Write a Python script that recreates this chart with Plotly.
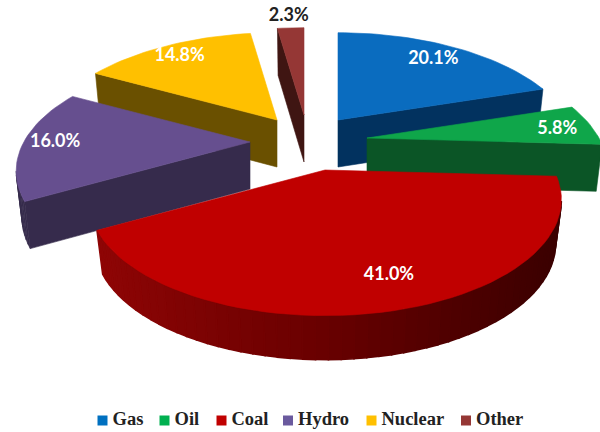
import math
import plotly.graph_objects as go

categories = ["Gas", "Oil", "Coal", "Hydro", "Nuclear", "Other"]
shares = [20.1, 5.8, 41.0, 16.0, 14.8, 2.3]

# styling
top_colors = ["#0A6CBF", "#0FA64A", "#C00000", "#664F8F", "#FFC000", "#953735"]
wall_colors = ["#02325F", "#0B5526", "#6A0000", "#362B4C", "#6A5000", "#3F1512"]
legend_colors = ["#0070C0", "#00B050", "#C00000", "#6A5A9E", "#FFC000", "#953735"]
label_colors = ["white", "white", "white", "white", "white", "#222222"]

# explode offsets (screen position of each slice's tip) and projection
tips = [(338, 120), (367, 138), (325, 170), (250, 142), (277, 120), (304, 115)]
radius_scale = [1, 1, .985, .975, 1, 1]
depths = [47, 47, 44, 47, 47, 47]
label_polar = [(36.8, .80), (84.8, .84), (164, .80), (270, .84), (324, .84), (355.8, 1.17)]
legend_left = [102.5, 164.5, 221.5, 288, 371.5, 466]
LEGEND_Y = 420.5
R, K, P, SHRINK = 232, 110, 0.26, 0.975
draw_order = [5, 4, 0, 3, 1, 2]


def project(t_deg, r=1.0):
    t = math.radians(t_deg)
    u, v = r * math.sin(t), r * math.cos(t)
    s = 1 / (1 + P * v)
    return R * u * s, -K * v * s


def mix(a, b, f):
    ca = [int(a[i:i + 2], 16) for i in (1, 3, 5)]
    cb = [int(b[i:i + 2], 16) for i in (1, 3, 5)]
    return "#%02x%02x%02x" % tuple(round(x + (y - x) * f) for x, y in zip(ca, cb))


fig = go.Figure()


def poly(xs, ys, color, lw=0.6):
    fig.add_trace(go.Scatter(x=xs + xs[:1], y=ys + ys[:1], mode="lines", fill="toself",
                             fillcolor=color, line=dict(color=color, width=lw),
                             hoverinfo="skip", showlegend=False))


starts = []
acc = 0.0
for val in shares:
    starts.append(acc)
    acc += val

for i in draw_order:
    t0 = starts[i] * 3.6
    t1 = (starts[i] + shares[i]) * 3.6
    n = 60 if i == 2 else max(6, int((t1 - t0) / 2))
    tx, ty = tips[i]
    offs = [(0.0, 0.0)] + [project(t0 + (t1 - t0) * k / n, radius_scale[i]) for k in range(n + 1)]
    pts = [(tx + a, ty + b) for a, b in offs]
    low = [(tx + a * SHRINK, ty + b + depths[i]) for a, b in offs]
    m = len(pts)
    for k in range(m):
        j = (k + 1) % m
        if pts[j][0] < pts[k][0]:
            if i == 2:
                f = (pts[k][0] - 100) / 465
                c = mix("#8E0505", "#680000", f / .5) if f < .5 else mix("#680000", "#3A0000", (f - .5) / .5)
            else:
                c = wall_colors[i]
            poly([pts[k][0], pts[j][0], low[j][0], low[k][0]],
                 [pts[k][1], pts[j][1], low[j][1], low[k][1]], c, lw=1.6 if i == 2 else 0.6)
    poly([p[0] for p in pts], [p[1] for p in pts], top_colors[i])

lx, ly = [], []
for i in range(len(shares)):
    a, b = project(*label_polar[i])
    lx.append(tips[i][0] + a)
    ly.append(tips[i][1] + b)
fig.add_trace(go.Scatter(x=lx, y=ly, mode="text", text=[f"{v:.1f}%" for v in shares],
                         textfont=dict(family="Lato", size=18, color=label_colors, weight="bold"),
                         hoverinfo="skip", showlegend=False))

for name, c, x0 in zip(categories, legend_colors, legend_left):
    fig.add_trace(go.Scatter(x=[x0], y=[LEGEND_Y], mode="markers", name=name,
                             marker=dict(symbol="square", size=10, color=c),
                             hoverinfo="skip", showlegend=False))
    fig.add_trace(go.Scatter(x=[x0 + 10], y=[LEGEND_Y], mode="text", text=[name],
                             textposition="middle right",
                             textfont=dict(family="Liberation Serif", size=18.5, color="#222222", weight="bold"),
                             hoverinfo="skip", showlegend=False))

fig.update_layout(
    width=600, height=432, margin=dict(l=0, r=0, t=0, b=0),
    paper_bgcolor="white", plot_bgcolor="white",
    xaxis=dict(range=[0, 600], visible=False, fixedrange=True),
    yaxis=dict(range=[432, 0], visible=False, fixedrange=True),
)
fig.write_html("out.html", config={"displayModeBar": False},
               post_script="document.body.style.margin='0';document.documentElement.style.overflow='hidden';")
